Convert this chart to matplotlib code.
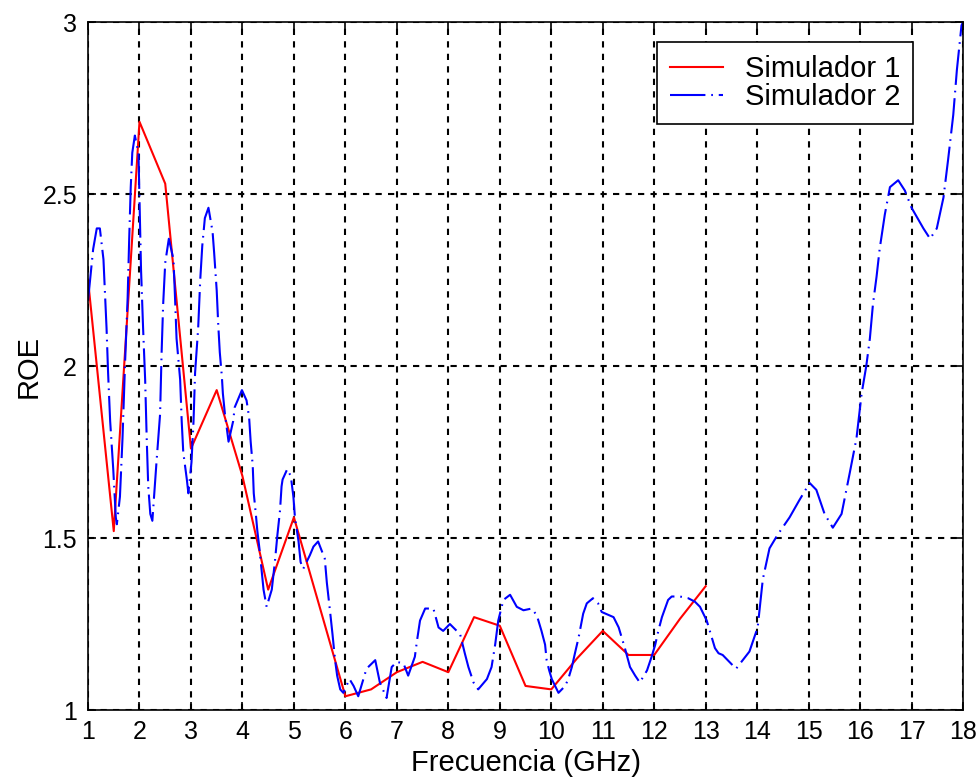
import matplotlib.pyplot as plt

# Simulador 1: ROE every 0.5 GHz from 1 to 13 GHz
f_sim1 = [1.0, 1.5, 2.0, 2.5, 3.0, 3.5, 4.0, 4.5, 5.0, 5.5, 6.0, 6.5, 7.0,
          7.5, 8.0, 8.5, 9.0, 9.5, 10.0, 10.5, 11.0, 11.5, 12.0, 12.5, 13.0]
roe_sim1 = [2.25, 1.52, 2.71, 2.53, 1.76, 1.93, 1.68, 1.35, 1.56, 1.30, 1.04, 1.06, 1.11,
            1.14, 1.11, 1.27, 1.245, 1.07, 1.06, 1.15, 1.23, 1.16, 1.16, 1.265, 1.36]

# Simulador 2: dense sweep 1-18 GHz
f_sim2 = [1.00, 1.10, 1.17, 1.23, 1.30, 1.36, 1.39, 1.43, 1.49, 1.54, 1.56, 1.62, 1.67,
          1.72, 1.77, 1.80, 1.83, 1.86, 1.91, 1.98, 2.01, 2.03, 2.07, 2.11, 2.14, 2.17,
          2.21, 2.25, 2.33, 2.40, 2.43, 2.46, 2.50, 2.57, 2.66, 2.69, 2.72, 2.79, 2.82,
          2.85, 2.92, 2.95, 3.01, 3.05, 3.08, 3.14, 3.18, 3.22, 3.27, 3.34, 3.42, 3.45,
          3.50, 3.53, 3.56, 3.60, 3.62, 3.66, 3.73, 3.82, 3.85, 3.99, 4.08, 4.13, 4.16,
          4.20, 4.22, 4.26, 4.29, 4.33, 4.37, 4.41, 4.47, 4.57, 4.63, 4.68, 4.73, 4.76,
          4.78, 4.87, 4.94, 4.99, 5.02, 5.09, 5.13, 5.18, 5.31, 5.38, 5.47, 5.60, 5.64,
          5.70, 5.75, 5.80, 5.84, 5.90, 5.96, 6.08, 6.16, 6.25, 6.35, 6.41, 6.58, 6.67,
          6.80, 6.90, 7.00, 7.13, 7.22, 7.35, 7.39, 7.45, 7.55, 7.71, 7.81, 7.90, 8.03,
          8.23, 8.32, 8.39, 8.49, 8.58, 8.75, 8.84, 8.91, 8.97, 9.07, 9.20, 9.33, 9.46,
          9.62, 9.72, 9.81, 9.88, 9.91, 9.96, 10.01, 10.14, 10.27, 10.33, 10.40, 10.46,
          10.53, 10.62, 10.69, 10.81, 10.91, 10.98, 11.21, 11.31, 11.37, 11.43, 11.53,
          11.63, 11.72, 11.86, 11.95, 12.02, 12.08, 12.15, 12.27, 12.34, 12.50, 12.66,
          12.79, 12.89, 13.02, 13.12, 13.18, 13.25, 13.33, 13.59, 13.85, 14.01, 14.11,
          14.24, 14.40, 14.63, 14.82, 15.02, 15.15, 15.31, 15.47, 15.64, 15.80, 15.93,
          16.03, 16.12, 16.19, 16.25, 16.32, 16.38, 16.48, 16.58, 16.74, 16.87, 17.00,
          17.23, 17.36, 17.49, 17.62, 17.71, 17.81, 17.88, 17.97, 18.00]
roe_sim2 = [2.19, 2.34, 2.40, 2.40, 2.31, 2.11, 1.98, 1.84, 1.70, 1.56, 1.54, 1.62, 1.79,
            2.01, 2.20, 2.37, 2.52, 2.62, 2.67, 2.62, 2.42, 2.28, 2.11, 1.96, 1.79, 1.65,
            1.57, 1.55, 1.72, 1.86, 2.04, 2.18, 2.30, 2.37, 2.31, 2.20, 2.08, 1.96, 1.84,
            1.75, 1.67, 1.63, 1.72, 1.84, 1.98, 2.11, 2.25, 2.35, 2.43, 2.46, 2.39, 2.33,
            2.22, 2.12, 2.04, 1.97, 1.92, 1.86, 1.78, 1.84, 1.88, 1.93, 1.90, 1.85, 1.78,
            1.71, 1.63, 1.57, 1.52, 1.47, 1.41, 1.35, 1.30, 1.35, 1.43, 1.51, 1.58, 1.65,
            1.67, 1.70, 1.68, 1.62, 1.56, 1.49, 1.43, 1.41, 1.45, 1.475, 1.49, 1.44, 1.37,
            1.29, 1.22, 1.145, 1.10, 1.06, 1.05, 1.09, 1.07, 1.04, 1.09, 1.12, 1.145, 1.08,
            1.035, 1.125, 1.14, 1.135, 1.10, 1.155, 1.20, 1.26, 1.295, 1.295, 1.24, 1.23, 1.25,
            1.22, 1.165, 1.125, 1.08, 1.06, 1.09, 1.125, 1.19, 1.26, 1.32, 1.335, 1.30, 1.29,
            1.295, 1.275, 1.23, 1.19, 1.145, 1.115, 1.09, 1.05, 1.07, 1.09, 1.125, 1.165,
            1.21, 1.28, 1.31, 1.325, 1.31, 1.285, 1.27, 1.24, 1.21, 1.18, 1.125,
            1.10, 1.08, 1.115, 1.155, 1.19, 1.23, 1.27, 1.32, 1.33, 1.33, 1.325,
            1.315, 1.30, 1.26, 1.21, 1.18, 1.165, 1.16, 1.12, 1.17, 1.24, 1.38,
            1.47, 1.51, 1.56, 1.61, 1.66, 1.64, 1.57, 1.53, 1.57, 1.69, 1.79,
            1.92, 2.00, 2.08, 2.18, 2.26, 2.34, 2.44, 2.52, 2.54, 2.51, 2.46,
            2.40, 2.37, 2.40, 2.49, 2.60, 2.73, 2.86, 2.99, 3.00]

x_ticks = list(range(1, 19))
y_ticks = [1, 1.5, 2, 2.5, 3]
y_tick_labels = ['1', '1.5', '2', '2.5', '3']

plt.rcParams['font.family'] = ['Liberation Sans', 'DejaVu Sans']

fig = plt.figure(figsize=(9.78, 7.83), dpi=100)
ax = fig.add_axes([0.09, 0.0932, 0.8947, 0.8787])

ax.plot(f_sim1, roe_sim1, color='#ff0000', lw=1.5, label='Simulador 1')
ax.plot(f_sim2, roe_sim2, color='#0000ff', lw=1.5, linestyle=(0, (17, 2.8, 0.8, 2.8)),
        label='Simulador 2')

ax.set_xlim(1, 18)
ax.set_ylim(1, 3)
ax.set_xticks(x_ticks)
ax.set_yticks(y_ticks)
ax.set_yticklabels(y_tick_labels)
ax.grid(True, color='black', linestyle=(0, (3, 3)), lw=1.5)
ax.tick_params(direction='in', length=6, width=1.2, top=True, right=True,
               labelsize=18)
ax.tick_params(axis='x', pad=7)
ax.tick_params(axis='y', pad=8)
for s in ax.spines.values():
    s.set_linewidth(1.2)

ax.set_xlabel('Frecuencia (GHz)', fontsize=21, labelpad=4)
ax.set_ylabel('ROE', fontsize=21, labelpad=0)

leg = ax.legend(loc='upper right', bbox_to_anchor=(0.943, 0.971), borderaxespad=0,
                fontsize=21, fancybox=False, framealpha=1, edgecolor='black',
                handlelength=1.8, handletextpad=0.75, borderpad=0.45, labelspacing=0.0)
leg.get_frame().set_linewidth(1.2)

fig.savefig('out.png', dpi=100)
